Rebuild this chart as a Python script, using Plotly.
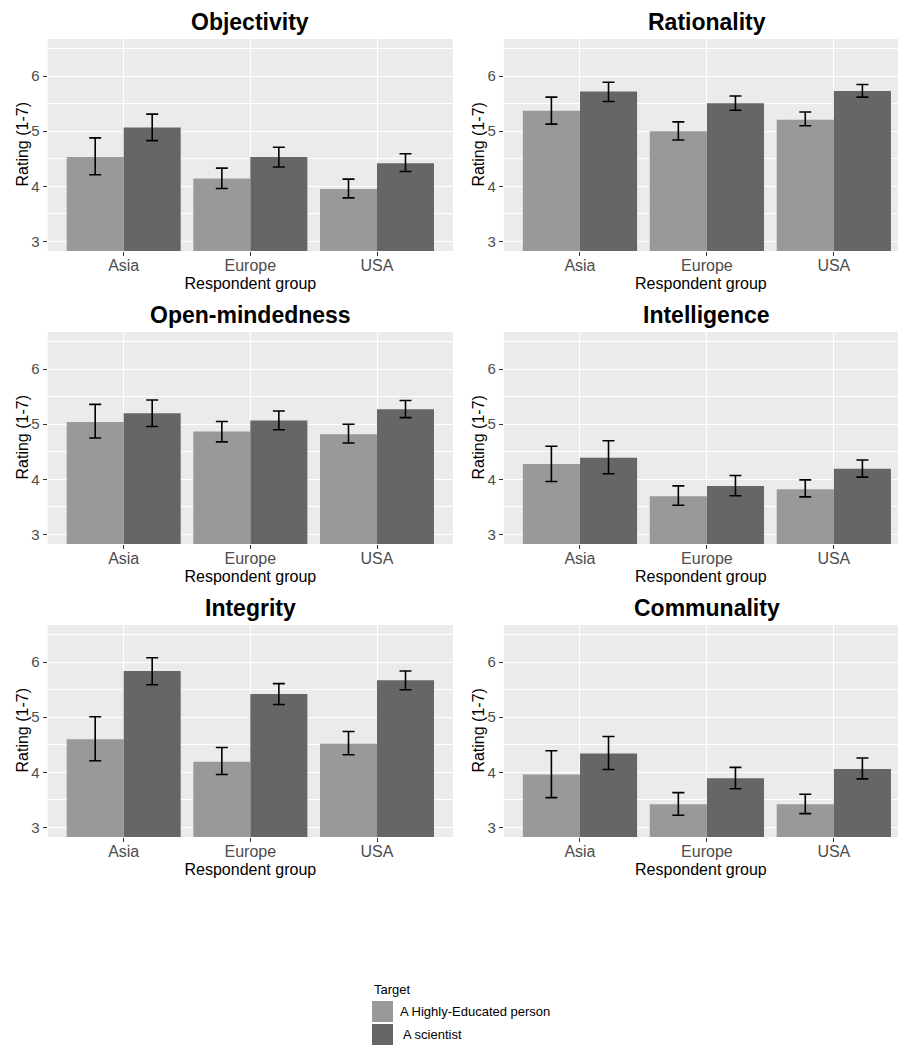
import plotly.graph_objects as go

traits = ["Objectivity", "Rationality", "Open-mindedness", "Intelligence", "Integrity", "Communality"]
groups = ["Asia", "Europe", "USA"]
series_names = ["A Highly-Educated person", "A scientist"]
series_colors = ["#999999", "#666666"]

# Highly-educated person: mean, lower CI, upper CI (per trait, per group)
edu_mean = [[4.53, 4.14, 3.95], [5.37, 5.00, 5.21], [5.04, 4.87, 4.82],
            [4.28, 3.69, 3.82], [4.60, 4.19, 4.52], [3.96, 3.42, 3.42]]
edu_lo = [[4.21, 3.96, 3.79], [5.13, 4.84, 5.10], [4.75, 4.68, 4.66],
          [3.96, 3.53, 3.68], [4.21, 3.96, 4.32], [3.54, 3.22, 3.25]]
edu_hi = [[4.88, 4.33, 4.13], [5.62, 5.17, 5.35], [5.36, 5.05, 5.00],
          [4.60, 3.88, 3.99], [5.01, 4.45, 4.74], [4.39, 3.63, 3.60]]

# Scientist
sci_mean = [[5.07, 4.53, 4.42], [5.72, 5.51, 5.73], [5.20, 5.07, 5.27],
            [4.39, 3.88, 4.19], [5.84, 5.42, 5.67], [4.34, 3.89, 4.06]]
sci_lo = [[4.83, 4.35, 4.27], [5.54, 5.38, 5.62], [4.96, 4.90, 5.12],
          [4.10, 3.70, 4.04], [5.59, 5.23, 5.50], [4.05, 3.70, 3.88]]
sci_hi = [[5.31, 4.71, 4.59], [5.89, 5.64, 5.85], [5.44, 5.24, 5.43],
          [4.70, 4.07, 4.35], [6.08, 5.61, 5.84], [4.65, 4.09, 4.26]]

y_ticks = [3, 4, 5, 6]
y_minor = [3.5, 4.5, 5.5, 6.5]
y_range = [2.825, 6.675]
x_title = "Respondent group"
y_title = "Rating (1-7)"
legend_title = "Target"

W, H = 898, 1046
FONT = "Liberation Sans, Arial, sans-serif"

# layout geometry (pixels)
col_left = [(47.7, 453.0), (503.8, 898.0)]
col_full_right = [453.0, 910.0]
row_top = [39.0, 332.0, 625.0]
plot_h = 212.0

fig = go.Figure()
series = [(edu_mean, edu_lo, edu_hi), (sci_mean, sci_lo, sci_hi)]

annotations = []
shapes = []
for i, trait in enumerate(traits):
    r, c = divmod(i, 2)
    n = i + 1
    xa = "x" if n == 1 else f"x{n}"
    ya = "y" if n == 1 else f"y{n}"
    for s, (m, lo, hi) in enumerate(series):
        fig.add_trace(go.Bar(
            x=groups, y=m[i],
            name=series_names[s],
            marker=dict(color=series_colors[s], line=dict(width=0)),
            error_y=dict(type="data", symmetric=False,
                         array=[h - v for h, v in zip(hi[i], m[i])],
                         arrayminus=[v - l for v, l in zip(m[i], lo[i])],
                         color="black", thickness=1.6, width=6),
            xaxis=xa, yaxis=ya,
            offsetgroup=str(s),
            showlegend=False,
            legendgroup=series_names[s],
        ))
    x0, x1 = col_left[c]
    top = row_top[r]
    bot = top + plot_h
    # x range: full panel is 3.2 category units wide; right column is cropped at the image edge
    unit = (col_full_right[c] - x0) / 3.2
    xr = [-0.6, -0.6 + (x1 - x0) / unit]
    axis_x = dict(
        domain=[x0 / W, x1 / W], anchor=ya, type="category",
        categoryorder="array", categoryarray=groups,
        range=xr, showgrid=True, gridcolor="white", gridwidth=1.4,
        zeroline=False, showline=False,
        ticks="outside", ticklen=4, tickwidth=1, tickcolor="#333333",
        ticklabelstandoff=-4,
        tickfont=dict(family=FONT, size=16, color="#4d4d4d"),
        title=dict(text=x_title, font=dict(family=FONT, size=16, color="#000000"), standoff=4),
    )
    axis_y = dict(
        domain=[1 - bot / H, 1 - top / H], anchor=xa,
        range=y_range, tickvals=y_ticks,
        showgrid=True, gridcolor="white", gridwidth=1.4,
        minor=dict(tickvals=y_minor, showgrid=True, gridcolor="white", gridwidth=0.7, ticks=""),
        zeroline=False, showline=False,
        ticks="outside", ticklen=4, tickwidth=1, tickcolor="#333333",
        tickfont=dict(family=FONT, size=15, color="#4d4d4d"),
    )
    fig.layout[f"xaxis{'' if n == 1 else n}"] = axis_x
    fig.layout[f"yaxis{'' if n == 1 else n}"] = axis_y
    annotations.append(dict(
        text=f"<b>{trait}</b>", x=((x0 + col_full_right[c]) / 2) / W,
        y=1 - (top - 17) / H, xref="paper", yref="paper",
        xanchor="center", yanchor="middle", showarrow=False,
        font=dict(family=FONT, size=23, color="#000000"),
    ))
    # y-axis title
    annotations.append(dict(
        text=y_title, x=(x0 - 26.2) / W, y=1 - (top + plot_h / 2) / H,
        xref="paper", yref="paper", xanchor="center", yanchor="middle",
        textangle=-90, showarrow=False,
        font=dict(family=FONT, size=16, color="#000000"),
    ))

# legend (title + swatches + labels) built from the series lists
leg_x, leg_title_y = 372, 989
sw_w, sw_h, sw_top, sw_step = 21, 21, 1001, 23
annotations.append(dict(
    text=legend_title, x=leg_x / W, y=1 - leg_title_y / H, xref="paper", yref="paper",
    xanchor="left", yanchor="middle", showarrow=False,
    font=dict(family=FONT, size=13, color="#000000"),
))
for s, name in enumerate(series_names):
    t = sw_top + s * sw_step
    shapes.append(dict(type="rect", xref="paper", yref="paper",
                       x0=leg_x / W, x1=(leg_x + sw_w) / W,
                       y0=1 - (t + sw_h) / H, y1=1 - t / H,
                       fillcolor=series_colors[s], line=dict(width=0)))
    annotations.append(dict(
        text=name, x=(leg_x + sw_w + 5 + 3 * s) / W, y=1 - (t + sw_h / 2) / H,
        xref="paper", yref="paper", xanchor="left", yanchor="middle", showarrow=False,
        font=dict(family=FONT, size=13, color="#000000"),
    ))

fig.update_layout(
    width=W, height=H,
    margin=dict(l=0, r=0, t=0, b=0),
    paper_bgcolor="white", plot_bgcolor="#EBEBEB",
    barmode="group", bargap=0.1, bargroupgap=0,
    font=dict(family=FONT, size=13, color="#000000"),
    annotations=annotations,
    shapes=shapes,
    showlegend=False,
)

fig.write_html(
    "out.html",
    config={"displayModeBar": False},
    post_script="document.body.style.margin='0px';document.body.style.overflow='hidden';",
)
